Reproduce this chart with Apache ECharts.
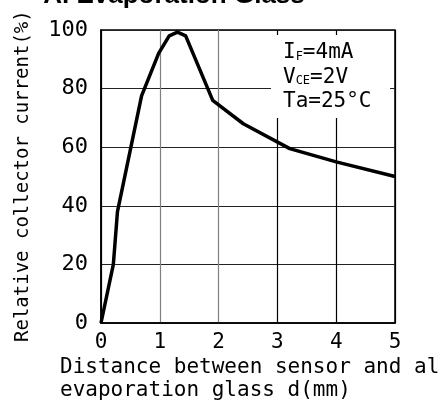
<!DOCTYPE html>
<html>
<head>
<meta charset="utf-8">
<script src="https://cdn.jsdelivr.net/npm/echarts@6/dist/echarts.min.js"></script>
<style>html,body{margin:0;padding:0;background:#fff}#c{width:448px;height:407px}</style>
</head>
<body>
<div id="c"></div>
<script>
const titleText = 'Al Evaporation Glass';
const xName = 'Distance between sensor and al\nevaporation glass d(mm)';
const yName = 'Relative collector current(%)';
const distance = [0, 0.21, 0.28, 0.69, 0.98, 1.16, 1.3, 1.44, 1.9, 2.42, 3.21, 4.0, 5.0];
const current  = [0, 20, 38, 77.5, 92, 98, 99.3, 98, 76, 68, 59.5, 55, 50];
const xTicks = [0, 1, 2, 3, 4, 5];
const yTicks = [0, 20, 40, 60, 80, 100];

const FONT = '"DejaVu Sans Mono"';
const chart = echarts.init(document.getElementById('c'), null, {renderer: 'canvas'});
chart.setOption({
  animation: false,
  backgroundColor: '#fff',
  grid: {left: 101, right: 53, top: 30, bottom: 84, show: true, borderColor: '#000', borderWidth: 1.5, backgroundColor: 'transparent'},
  xAxis: {
    type: 'value', min: xTicks[0], max: xTicks[xTicks.length - 1], interval: 1,
    axisLine: {show: true, onZero: false, lineStyle: {color: '#000', width: 1.5}},
    axisTick: {show: false},
    axisLabel: {color: '#000', fontFamily: 'DejaVu Sans Mono', fontSize: 21, margin: 9},
    splitLine: {show: true, lineStyle: {color: ['#000', '#808080', '#808080', '#000', '#000', '#000'], width: 1.2}}
  },
  yAxis: {
    type: 'value', min: yTicks[0], max: yTicks[yTicks.length - 1], interval: 20,
    axisLine: {show: true, lineStyle: {color: '#000', width: 1.5}},
    axisTick: {show: false},
    axisLabel: {color: '#000', fontFamily: 'DejaVu Sans Mono', fontSize: 22, margin: 13},
    splitLine: {show: true, lineStyle: {color: '#222', width: 1.2}}
  },
  graphic: [
    {type: 'text', x: 174, y: 9, z: 100, style: {text: titleText, font: 'bold 26px "Liberation Sans"', fill: '#000', textAlign: 'center', textVerticalAlign: 'bottom'}},
    {type: 'text', x: 33, y: 342, rotation: Math.PI / 2, z: 100, style: {text: yName, font: '19px ' + FONT, fill: '#000', textAlign: 'left', textVerticalAlign: 'bottom'}},
    {type: 'text', x: 60, y: 356, z: 100, style: {text: xName, font: '21px ' + FONT, fill: '#000', textAlign: 'left', textVerticalAlign: 'top', lineHeight: 23}},
    {type: 'rect', z: 50, shape: {x: 271, y: 35, width: 119, height: 83}, style: {fill: '#fff'}},
    {type: 'text', x: 283, y: 39, z: 100, style: {
      text: '{n|I}{s|F}{n|=4mA}\n{n|V}{s|CE}{n|=2V}\n{n|Ta=25°C}',
      textAlign: 'left', textVerticalAlign: 'top',
      rich: {
        n: {fontFamily: 'DejaVu Sans Mono', fontSize: 21, lineHeight: 24.5, fill: '#000', verticalAlign: 'bottom'},
        s: {fontFamily: 'DejaVu Sans Mono', fontSize: 12, lineHeight: 24.5, fill: '#000', verticalAlign: 'bottom', padding: [0, 0, 1, 0]}
      }
    }}
  ],
  series: [{
    type: 'line', data: distance.map((d, i) => [d, current[i]]),
    showSymbol: false, symbol: 'none', z: 10,
    lineStyle: {color: '#000', width: 3.5, join: 'round'}
  }]
});
</script>
</body>
</html>
